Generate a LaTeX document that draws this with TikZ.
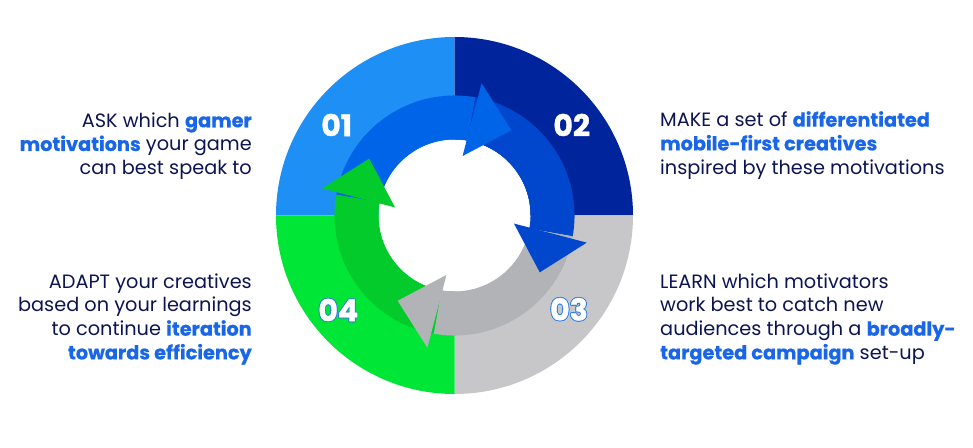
\documentclass[tikz,border=0pt]{standalone}
\usepackage{fontspec}
\setmainfont{Poppins}[BoldFeatures={FakeBold=0.5}]
\newfontfamily\numfont{Poppins}[BoldFeatures={FakeBold=1.2}]
\usetikzlibrary{calc}
\definecolor{qone}{HTML}{1E8FF5}
\definecolor{qtwo}{HTML}{00249C}
\definecolor{qthree}{HTML}{C7C7C9}
\definecolor{qfour}{HTML}{00E636}
\definecolor{rone}{HTML}{0064E9}
\definecolor{rtwo}{HTML}{0047CD}
\definecolor{rthree}{HTML}{B1B3B6}
\definecolor{rfour}{HTML}{02CB2B}
\definecolor{navy}{HTML}{0D1452}
\definecolor{hl}{HTML}{1A66E8}
\definecolor{outl}{HTML}{3380E0}
\newcommand{\hb}[1]{\textbf{\color{hl}#1}}
\tikzset{
  txt/.style={inner sep=0pt, text=navy, font=\fontsize{19.3}{23.7}\selectfont},
  num/.style={inner sep=0pt, text=white, font=\numfont\bfseries\fontsize{30}{32}\selectfont},
  numo/.style={num, text=outl}
}
\begin{document}
\begin{tikzpicture}[x=1pt,y=1pt]
\useasboundingbox (0,0) rectangle (973,447);
\fill[white] (0,0) rectangle (973,447);
\def\R{178.5}
\def\ri{76}
\def\ro{120}
\begin{scope}[shift={(454.5,231.5)}]
  % quadrants
  \fill[qone]   (0,0) -- (90:\R)  arc[start angle=90, end angle=180, radius=\R] -- cycle;
  \fill[qtwo]   (0,0) -- (0:\R)   arc[start angle=0, end angle=90, radius=\R] -- cycle;
  \fill[qthree] (0,0) -- (-90:\R) arc[start angle=-90, end angle=0, radius=\R] -- cycle;
  \fill[qfour]  (0,0) -- (180:\R) arc[start angle=180, end angle=270, radius=\R] -- cycle;
  \fill[white] (0,0) circle[radius=\ri];
  % ring bodies
  \foreach \a/\b/\c in {80/170/rone, -10/80/rtwo, -100/-10/rthree, 170/260/rfour}{
    \fill[\c] (\a:\ro) arc[start angle=\a, end angle=\b, radius=\ro]
      -- (\b:\ri) arc[start angle=\b, end angle=\a, radius=\ri] -- cycle;
  }
  % arrow heads
  \foreach \t/\c in {80/rone, -10/rtwo, -100/rthree, 170/rfour}{
    \fill[\c] ({\t-1.6}:135) -- ({\t+2.3}:60) -- ({\t-23.7}:102.5) -- cycle;
  }
\end{scope}
% step numbers
\node[num] (n1) at (336.7,{447-125}) {01};
\node[num] (n2) at (571.7,{447-125}) {02};
\foreach \dx/\dy in {0.9/0,-0.9/0,0/0.9,0/-0.9,0.65/0.65,-0.65/0.65,0.65/-0.65,-0.65/-0.65}{
  \node[numo] at ({569+\dx},{447-309.3+\dy}) {03};
  \node[numo] at ({338.3+\dx},{447-310+\dy}) {04};
}
\node[num] (n3) at (569,{447-309.3}) {03};
\node[num] (n4) at (338.3,{447-310}) {04};
% texts
\node[txt, anchor=base east] (t1) at (252,{447-127.3}) {\parbox[t]{300pt}{\raggedleft
ASK which \hb{gamer}\\
\hb{motivations} your game\\
can best speak to}};
\node[txt, anchor=base east] (t4) at (252,{447-288.3}) {\parbox[t]{300pt}{\raggedleft
ADAPT your creatives\\
based on your learnings\\
to continue \hb{iteration}\\
\hb{towards efficiency}}};
\node[txt, anchor=base west] (t2) at (660,{447-126.7}) {\parbox[t]{320pt}{\raggedright
MAKE a set of \hb{differentiated}\\
\hb{mobile-first creatives}\\
inspired by these motivations}};
\node[txt, anchor=base west] (t3) at (660,{447-288.3}) {\parbox[t]{320pt}{\raggedright
LEARN which motivators\\
work best to catch new\\
audiences through a \hb{broadly-}\\
\hb{targeted campaign} set-up}};
\end{tikzpicture}
\end{document}
